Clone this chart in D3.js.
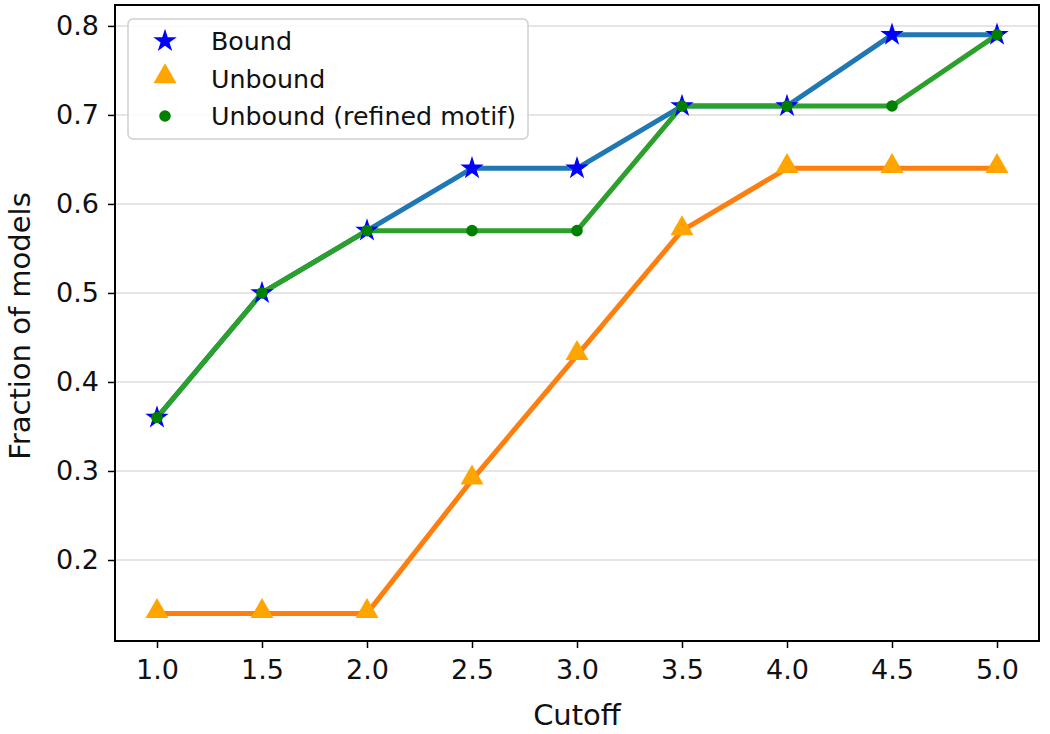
<!DOCTYPE html>
<html><head><meta charset="utf-8">
<script src="https://cdn.jsdelivr.net/npm/d3@7"></script>
<style>body{margin:0;background:#fff}svg{display:block;font-family:"DejaVu Sans",sans-serif}</style>
</head><body><svg id="c" width="1050" height="734"></svg>
<script>
const cutoffs = [1.0, 1.5, 2.0, 2.5, 3.0, 3.5, 4.0, 4.5, 5.0];
const bound = [0.36, 0.50, 0.57, 0.64, 0.64, 0.71, 0.71, 0.79, 0.79];
const unbound = [0.14, 0.14, 0.14, 0.29, 0.43, 0.57, 0.64, 0.64, 0.64];
const refined = [0.36, 0.50, 0.57, 0.57, 0.57, 0.71, 0.71, 0.71, 0.79];
const xTicks = [1.0, 1.5, 2.0, 2.5, 3.0, 3.5, 4.0, 4.5, 5.0];
const yTicks = [0.2, 0.3, 0.4, 0.5, 0.6, 0.7, 0.8];
const legendLabels = ["Bound", "Unbound", "Unbound (refined motif)"];

const svg = d3.select("#c");
const L = 115, R = 1039, T = 5, B = 641;
const x = d3.scaleLinear().domain([0.8, 5.2]).range([L, R]);
const y = d3.scaleLinear().domain([0.109, 0.8235]).range([B, T]);

// grid
svg.append("g").selectAll("line").data(yTicks).join("line")
  .attr("x1", L).attr("x2", R).attr("y1", d => y(d)).attr("y2", d => y(d))
  .attr("stroke", "#dcdcdc").attr("stroke-width", 1.5);

// axes
const tfs = 27, lfs = 29, gfs = 25.3;
const xa = svg.append("g").attr("transform", `translate(0,${B})`)
  .call(d3.axisBottom(x).tickValues(xTicks).tickFormat(d3.format(".1f")).tickSize(7).tickPadding(6));
const ya = svg.append("g").attr("transform", `translate(${L},0)`)
  .call(d3.axisLeft(y).tickValues(yTicks).tickFormat(d3.format(".1f")).tickSize(7).tickPadding(9));
[xa, ya].forEach(a => {
  a.select(".domain").remove();
  a.selectAll("line").attr("stroke", "#000").attr("stroke-width", 1.5);
  a.selectAll("text").attr("font-size", tfs).attr("fill", "#111").attr("font-family", "DejaVu Sans");
});
xa.selectAll("text").attr("dy", "0.92em");

// lines
const line = vals => d3.line().x((d, i) => x(cutoffs[i])).y(d => y(d))(vals);
const series = [
  {vals: bound, lc: "#1f77b4"},
  {vals: unbound, lc: "#ff7f0e"},
  {vals: refined, lc: "#2ca02c"}
];
series.forEach(s => svg.append("path").attr("d", line(s.vals)).attr("fill", "none")
  .attr("stroke", s.lc).attr("stroke-width", 5).attr("stroke-linejoin", "round"));

// markers
const star = d3.symbol().type(d3.symbolStar).size(170);
const tri = d3.symbol().type(d3.symbolTriangle).size(230);
const dot = d3.symbol().type(d3.symbolCircle).size(105);
svg.append("g").selectAll("path").data(bound).join("path")
  .attr("d", star).attr("fill", "#0000ff")
  .attr("transform", (d, i) => `translate(${x(cutoffs[i])},${y(d)})`);
svg.append("g").selectAll("path").data(unbound).join("path")
  .attr("d", tri).attr("fill", "#ffa500")
  .attr("transform", (d, i) => `translate(${x(cutoffs[i])},${y(d) - 2})`);
svg.append("g").selectAll("path").data(refined).join("path")
  .attr("d", dot).attr("fill", "#008000")
  .attr("transform", (d, i) => `translate(${x(cutoffs[i])},${y(d)})`);

// frame
svg.append("rect").attr("x", L).attr("y", T).attr("width", R - L).attr("height", B - T)
  .attr("fill", "none").attr("stroke", "#000").attr("stroke-width", 2);

// labels
svg.append("text").attr("x", (L + R) / 2).attr("y", 725).attr("text-anchor", "middle")
  .attr("font-size", lfs).attr("fill", "#111").text("Cutoff");
svg.append("text").attr("transform", `translate(30,${(T + B) / 2 + 3}) rotate(-90)`)
  .attr("text-anchor", "middle").attr("font-size", lfs).attr("fill", "#111").text("Fraction of models");

// legend
const lg = svg.append("g");
lg.append("rect").attr("x", 128).attr("y", 19).attr("width", 400).attr("height", 120).attr("rx", 5)
  .attr("fill", "#fff").attr("fill-opacity", 0.85).attr("stroke", "#d0d0d0").attr("stroke-width", 1.5);
const legSyms = [[star, "#0000ff"], [tri, "#ffa500"], [dot, "#008000"]];
legendLabels.forEach((t, i) => {
  const cy = 41 + i * 37.5;
  lg.append("path").attr("d", legSyms[i][0]).attr("fill", legSyms[i][1])
    .attr("transform", `translate(165,${cy - (i === 1 ? 2 : 0)})`);
  lg.append("text").attr("x", 211).attr("y", cy).attr("dy", "0.36em")
    .attr("font-size", gfs).attr("fill", "#111").text(t);
});
</script></body></html>
